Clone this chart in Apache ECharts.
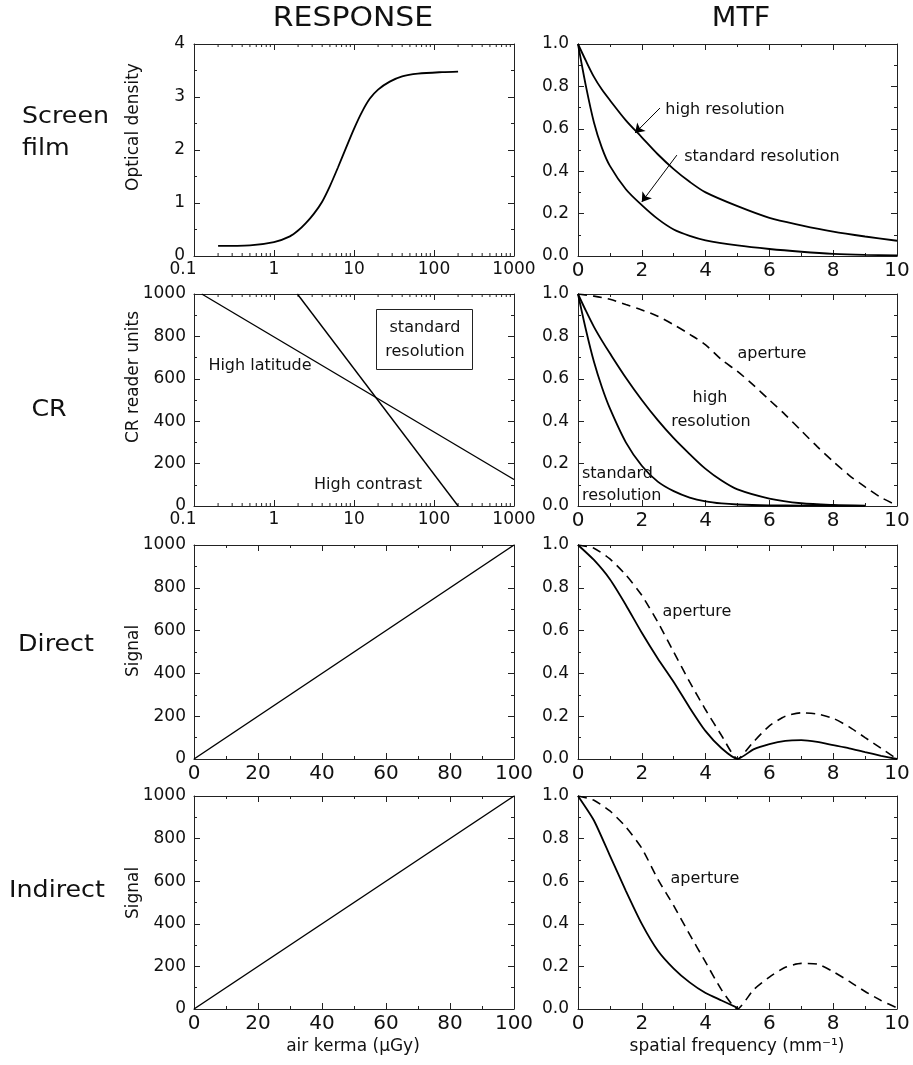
<!DOCTYPE html>
<html><head><meta charset="utf-8">
<script src="https://cdn.jsdelivr.net/npm/echarts@6/dist/echarts.min.js"></script>
<style>html,body{margin:0;padding:0;background:#fff}#c{width:913px;height:1065px}</style>
</head><body><div id="c"></div>
<script>
// ---------------- DATA ----------------
// Row 1: Screen film
const filmKerma = [0.2, 0.5, 1, 1.58, 2, 2.5, 3.16, 3.98, 5.0, 6.3, 7.9, 10, 12.6, 15.8, 20, 28, 40, 63, 126, 200];
const filmOD    = [0.19, 0.20, 0.26, 0.37, 0.48, 0.62, 0.80, 1.02, 1.32, 1.67, 2.03, 2.40, 2.72, 2.97, 3.14, 3.29, 3.39, 3.44, 3.47, 3.48];
const filmFreq  = [0, 0.25, 0.5, 0.75, 1, 1.5, 2, 2.5, 3, 3.5, 4, 5, 6, 7, 8, 9, 10];
const filmHighMTF = [1.0, 0.92, 0.845, 0.785, 0.735, 0.64, 0.56, 0.48, 0.41, 0.35, 0.30, 0.235, 0.18, 0.145, 0.115, 0.092, 0.072];
const filmStdMTF  = [1.0, 0.80, 0.63, 0.51, 0.425, 0.315, 0.24, 0.175, 0.125, 0.095, 0.074, 0.05, 0.033, 0.02, 0.01, 0.005, 0.003];
// arrows (annotation pointers) in data units: [fromX, fromY, toX, toY]
const arrowHigh = [2.57, 0.698, 1.79, 0.58];
const arrowStd  = [3.1, 0.476, 2.0, 0.255];

// Row 2: CR
const crLatitudeKerma = [0.125, 1000];
const crLatitudeUnits = [1000, 125];
const crContrastKerma = [1.96, 200];
const crContrastUnits = [1000, 0];
const crFreq = [0, 0.25, 0.5, 0.75, 1, 1.5, 2, 2.5, 3, 3.5, 4, 4.5, 5, 6, 7, 8, 9];
const crHighMTF = [1.0, 0.92, 0.845, 0.78, 0.72, 0.605, 0.50, 0.405, 0.32, 0.245, 0.175, 0.12, 0.078, 0.035, 0.013, 0.005, 0.002];
const crStdMTF  = [1.0, 0.83, 0.68, 0.56, 0.46, 0.30, 0.19, 0.115, 0.07, 0.04, 0.022, 0.012, 0.007, 0.003, 0.002, 0.001, 0.001];
const crApFreq = [0, 0.5, 1, 1.5, 2, 2.5, 3, 3.5, 4, 4.5, 5, 5.5, 6, 6.5, 7, 7.5, 8, 8.5, 9, 9.5, 9.9];
const crApertureMTF = [1.0, 0.99, 0.975, 0.95, 0.925, 0.895, 0.855, 0.81, 0.76, 0.69, 0.635, 0.57, 0.50, 0.43, 0.355, 0.28, 0.21, 0.145, 0.09, 0.04, 0.01];

// Row 3: Direct
const linearKerma = [0, 100];
const linearSignal = [0, 1000];
const halfFreq = [0, 0.5, 1, 1.5, 2, 2.5, 3, 3.5, 4, 4.5, 5, 5.5, 6, 6.5, 7, 7.5, 8, 8.5, 9, 9.5, 10];
const directApertureMTF = [1.0, 0.985, 0.935, 0.86, 0.765, 0.64, 0.50, 0.36, 0.23, 0.11, 0.0, 0.08, 0.155, 0.20, 0.216, 0.21, 0.19, 0.15, 0.10, 0.05, 0.0];
const directMTF = [1.0, 0.93, 0.84, 0.72, 0.59, 0.47, 0.36, 0.24, 0.13, 0.05, 0.0, 0.045, 0.07, 0.085, 0.088, 0.08, 0.065, 0.05, 0.032, 0.015, 0.0];

// Row 4: Indirect
const indirectApertureMTF = [1.0, 0.98, 0.93, 0.855, 0.755, 0.61, 0.485, 0.35, 0.22, 0.09, 0.0, 0.09, 0.15, 0.196, 0.214, 0.211, 0.175, 0.13, 0.082, 0.04, 0.005];
const indirectFreq = [0, 0.5, 1, 1.5, 2, 2.5, 3, 3.5, 4, 4.5, 5];
const indirectMTF = [1.0, 0.885, 0.72, 0.555, 0.40, 0.275, 0.19, 0.125, 0.075, 0.04, 0.005];

// tick values
const logMinorTicks = [];
[0.1, 1, 10, 100].forEach(d => { for (let k = 2; k <= 9; k++) logMinorTicks.push(+(d * k).toPrecision(3)); });

const rowLabels = ['Screen', 'film', 'CR', 'Direct', 'Indirect'];
const yNames = ['Optical density', 'CR reader units', 'Signal', 'Signal'];

// ---------------- LAYOUT ----------------
const COLS = [{left: 194, width: 320}, {left: 578, width: 319}];
const ROWS = [{top: 44, height: 212}, {top: 294, height: 212}, {top: 545, height: 214}, {top: 796, height: 213}];
const INK = '#222', TXT = '#111';
const FONT = '"DejaVu Sans", sans-serif';

const grids = [];
ROWS.forEach(r => COLS.forEach(c => grids.push({left: c.left, width: c.width, top: r.top, height: r.height, containLabel: false, outerBoundsMode: 'none'})));

function pairs(xs, ys) { return xs.map((x, i) => [x, ys[i]]); }

const xAxes = [], yAxes = [];
function addAxes(g, xs, ys) {
  ['bottom', 'top'].forEach(pos => {
    const main = pos === 'bottom';
    const a = {
      gridIndex: g, position: pos, type: xs.type, min: xs.min, max: xs.max,
      axisLine: {show: true, onZero: false, lineStyle: {color: INK, width: 1}},
      axisTick: {show: true, inside: true, length: 6, lineStyle: {color: INK}},
      minorTick: {show: xs.type !== 'log', splitNumber: 2, length: 3, lineStyle: {color: INK}},
      splitLine: {show: false}, minorSplitLine: {show: false},
      axisLabel: {show: main, margin: 5, color: TXT, fontFamily: FONT, fontSize: xs.fs, formatter: xs.fmt, rich: xs.rich}
    };
    if (xs.type === 'log') a.logBase = 10; else a.interval = xs.interval;
    xAxes.push(a);
  });
  ['left', 'right'].forEach(pos => {
    const main = pos === 'left';
    yAxes.push({
      gridIndex: g, position: pos, type: 'value', min: ys.min, max: ys.max, interval: ys.interval,
      axisLine: {show: true, onZero: false, lineStyle: {color: INK, width: 1}},
      axisTick: {show: true, inside: true, length: 6, lineStyle: {color: INK}},
      minorTick: {show: true, splitNumber: 2, length: 3, lineStyle: {color: INK}},
      splitLine: {show: false}, minorSplitLine: {show: false},
      axisLabel: {show: main, margin: ys.margin, color: TXT, fontFamily: FONT, fontSize: 17, formatter: ys.fmt}
    });
  });
}

const logX = {
  type: 'log', min: 0.1, max: 1000, fs: 17,
  fmt: v => { const t = +(+v).toPrecision(6); return t === 0.1 ? '{first|0.1}' : String(t); },
  rich: {first: {padding: [0, 22, 0, 0], fontFamily: FONT, fontSize: 17, color: TXT}}
};
const linX = {type: 'value', min: 0, max: 100, interval: 20, fs: 20, fmt: v => String(v)};
const freqX = {type: 'value', min: 0, max: 10, interval: 2, fs: 20, fmt: v => String(v)};
const odY = {min: 0, max: 4, interval: 1, margin: 9, fmt: v => String(v)};
const sigY = {min: 0, max: 1000, interval: 200, margin: 8, fmt: v => String(v)};
const mtfY = {min: 0, max: 1, interval: 0.2, margin: 9, fmt: v => (+v).toFixed(1)};

addAxes(0, logX, odY);  addAxes(1, freqX, mtfY);
addAxes(2, logX, sigY); addAxes(3, freqX, mtfY);
addAxes(4, linX, sigY); addAxes(5, freqX, mtfY);
addAxes(6, linX, sigY); addAxes(7, freqX, mtfY);

function line(g, data, opts) {
  return Object.assign({
    type: 'line', xAxisIndex: 2 * g, yAxisIndex: 2 * g, data: data, symbol: 'none',
    lineStyle: {color: '#000', width: 1.8}, smooth: false, silent: true, z: 4
  }, opts || {});
}
const dashed = {color: '#000', width: 1.6, type: [9, 6]};

function minorTickSeries(g) {
  return {
    type: 'custom', xAxisIndex: 2 * g, yAxisIndex: 2 * g, silent: true, clip: false, z: 3,
    data: logMinorTicks.map(v => [v, 0]),
    renderItem: (params, api) => {
      const p = api.coord([api.value(0), api.value(1)]);
      const cs = params.coordSys;
      const b = cs.y + cs.height, t = cs.y;
      return {type: 'group', children: [
        {type: 'line', shape: {x1: p[0], y1: b, x2: p[0], y2: b - 3}, style: {stroke: INK, lineWidth: 1}},
        {type: 'line', shape: {x1: p[0], y1: t, x2: p[0], y2: t + 3}, style: {stroke: INK, lineWidth: 1}}
      ]};
    }
  };
}

const series = [
  line(0, pairs(filmKerma, filmOD), {smooth: 0.3}),
  minorTickSeries(0),
  line(1, pairs(filmFreq, filmHighMTF), {smooth: 0.3,
    markLine: {silent: true, animation: false, symbol: ['none', 'arrow'], symbolSize: 9,
      lineStyle: {color: '#000', width: 1, type: 'solid'}, label: {show: false},
      data: [
        [{coord: [arrowHigh[0], arrowHigh[1]]}, {coord: [arrowHigh[2], arrowHigh[3]]}],
        [{coord: [arrowStd[0], arrowStd[1]]}, {coord: [arrowStd[2], arrowStd[3]]}]
      ]}}),
  line(1, pairs(filmFreq, filmStdMTF), {smooth: 0.3}),
  line(2, pairs(crLatitudeKerma, crLatitudeUnits), {lineStyle: {color: '#000', width: 1.4}}),
  line(2, pairs(crContrastKerma, crContrastUnits), {lineStyle: {color: '#000', width: 1.4}}),
  minorTickSeries(2),
  line(3, pairs(crApFreq, crApertureMTF), {smooth: 0.3, lineStyle: dashed}),
  line(3, pairs(crFreq, crHighMTF), {smooth: 0.3}),
  line(3, pairs(crFreq, crStdMTF), {smooth: 0.3}),
  line(4, pairs(linearKerma, linearSignal), {lineStyle: {color: '#000', width: 1.5}}),
  line(5, pairs(halfFreq, directApertureMTF), {smooth: 0.2, lineStyle: dashed}),
  line(5, pairs(halfFreq, directMTF), {smooth: 0.2}),
  line(6, pairs(linearKerma, linearSignal), {lineStyle: {color: '#000', width: 1.5}}),
  line(7, pairs(halfFreq, indirectApertureMTF), {smooth: 0.2, lineStyle: dashed}),
  line(7, pairs(indirectFreq, indirectMTF), {smooth: 0.2})
];

// ---------------- TEXT ----------------
function txt(x, y, text, size, extra) {
  const e = Object.assign({type: 'text', x: x, y: y, silent: true, z: 10,
    style: {text: text, font: size + 'px ' + FONT, fill: TXT, align: 'center', verticalAlign: 'middle',
            textAlign: 'center', textVerticalAlign: 'middle'}}, extra || {});
  return e;
}
function txtL(x, y, text, size, extra) {
  const e = txt(x, y, text, size, extra);
  e.style.align = 'left'; e.style.textAlign = 'left';
  return e;
}

const graphic = [
  txt(353, 19, 'RESPONSE', 26, {scaleX: 1.15}),
  txt(741, 19, 'MTF', 26, {scaleX: 1.1}),
  txtL(22, 117, rowLabels[0], 23, {scaleX: 1.1}),
  txtL(22, 149, rowLabels[1], 23, {scaleX: 1.1}),
  txt(49, 410, rowLabels[2], 23, {scaleX: 1.1}),
  txt(56, 645, rowLabels[3], 23, {scaleX: 1.1}),
  txt(57, 891, rowLabels[4], 23, {scaleX: 1.1}),
  txt(134, 127, yNames[0], 17, {rotation: Math.PI / 2}),
  txt(134, 377, yNames[1], 17, {rotation: Math.PI / 2}),
  txt(134, 651, yNames[2], 17, {rotation: Math.PI / 2}),
  txt(134, 893, yNames[3], 17, {rotation: Math.PI / 2}),
  txt(353, 1047, 'air kerma (μGy)', 17),
  txt(737, 1047, 'spatial frequency (mm⁻¹)', 17),
  // annotations
  txt(725, 110, 'high resolution', 16),
  txt(762, 157, 'standard resolution', 16),
  txt(260, 366, 'High latitude', 16),
  txt(368, 485, 'High contrast', 16),
  {type: 'rect', shape: {x: 376.5, y: 309.5, width: 96, height: 60}, style: {fill: '#fff', stroke: INK, lineWidth: 1}, z: 9, silent: true},
  txt(425, 328, 'standard', 16),
  txt(425, 352, 'resolution', 16),
  txt(772, 354, 'aperture', 16),
  txt(710, 398, 'high', 16),
  txt(711, 422, 'resolution', 16),
  txtL(582, 474, 'standard', 16),
  txtL(582, 496, 'resolution', 16),
  txt(697, 612, 'aperture', 16),
  txt(705, 879, 'aperture', 16)
];

const chart = echarts.init(document.getElementById('c'), null, {renderer: 'canvas'});
chart.setOption({
  animation: false, backgroundColor: '#fff',
  grid: grids, xAxis: xAxes, yAxis: yAxes, series: series, graphic: graphic
});
</script>
</body></html>
